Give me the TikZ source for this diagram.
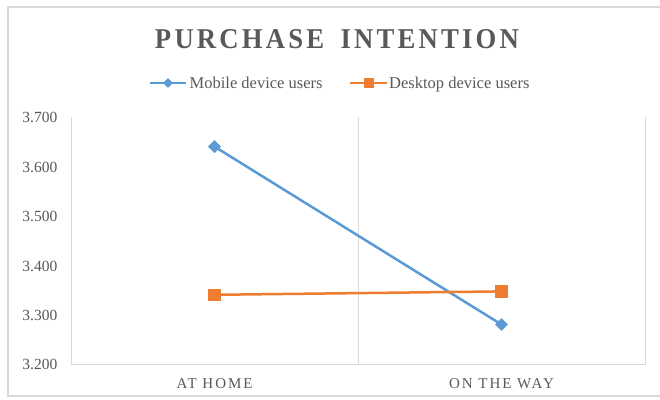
\documentclass[tikz,border=0pt]{standalone}
\usepackage{fontspec}
\setmainfont{Liberation Serif}
\newfontfamily\titlefont[LetterSpace=12]{Liberation Serif}
\newfontfamily\catfont[LetterSpace=13]{Liberation Serif}
\usetikzlibrary{shapes.geometric}

\definecolor{mobileblue}{HTML}{5B9BD5}
\definecolor{desktoporange}{HTML}{ED7D31}
\definecolor{labelgray}{HTML}{595959}
\definecolor{gridgray}{HTML}{D9D9D9}

\tikzset{
  frame/.style={draw=gridgray, line width=1.2bp},
  grid line/.style={draw=gridgray, line width=1bp},
  charttitle/.style={text=labelgray, inner sep=0pt, anchor=base,
    font=\titlefont\bfseries\fontsize{28.7bp}{32bp}\selectfont},
  ylabel/.style={text=labelgray, inner sep=0pt, anchor=base east,
    font=\fontsize{15.5bp}{18bp}\selectfont},
  catlabel/.style={text=labelgray, inner sep=0pt, anchor=base,
    font=\catfont\fontsize{15bp}{18bp}\selectfont},
  legendtext/.style={text=labelgray, inner sep=0pt, anchor=base west,
    font=\fontsize{16.5bp}{19bp}\selectfont},
  mobileline/.style={draw=mobileblue, line width=2.5bp, line join=round},
  desktopline/.style={draw=desktoporange, line width=2.5bp, line join=round},
  mobilemark/.style={diamond, fill=mobileblue, inner sep=0pt,
    minimum width=13bp, minimum height=13bp},
  desktopmark/.style={rectangle, fill=desktoporange, inner sep=0pt,
    minimum size=12.5bp},
}

\begin{document}
\begin{tikzpicture}[x=1bp, y=-1bp]
\useasboundingbox (0,0) rectangle (660,399);
\fill[white] (0,0) rectangle (660,399);

% chart frame (its right edge runs past the page)
\draw[frame] (8,7) rectangle (668,396);

% title
\node[charttitle] (title) at (337,48)
  {\scalebox{0.93}[1]{PURCHASE\hspace{7bp} INTENTION}};

% legend
\coordinate (lm1) at (150,83);
\coordinate (lm2) at (186,83);
\draw[mobileline] (lm1) -- (lm2);
\node[mobilemark, minimum width=10bp, minimum height=10bp] (lmk) at (168,83) {};
\node[legendtext] (lmt) at (189.5,88.5) {Mobile device users};
\coordinate (ld1) at (350,83);
\coordinate (ld2) at (387,83);
\draw[desktopline] (ld1) -- (ld2);
\node[desktopmark, minimum size=10bp] (ldk) at (368.5,83) {};
\node[legendtext] (ldt) at (389,88.5) {Desktop device users};

% plot area lines
\coordinate (axtl) at (71,117);
\coordinate (axbl) at (71,364);
\coordinate (axbr) at (645,364);
\coordinate (axtr) at (645,117);
\coordinate (midt) at (358,117);
\coordinate (midb) at (358,364);
\draw[grid line] (axtl) -- (axbl) -- (axbr) -- (axtr);
\draw[grid line] (midt) -- (midb);

% value axis labels
\foreach \v/\lab [count=\i from 0] in {3.7/3.700,3.6/3.600,3.5/3.500,3.4/3.400,3.3/3.300,3.2/3.200}{
  \node[ylabel] (yl\i) at (57.5,{122.8+49.4*\i}) {\lab};
}

% category labels
\node[catlabel] (cat1) at (214.5,388) {AT HOME};
\node[catlabel] (cat2) at (501.5,388) {ON THE WAY};

% data points
\coordinate (m1) at (214.5,146.6);
\coordinate (m2) at (501.5,324.5);
\coordinate (d1) at (214.5,294.8);
\coordinate (d2) at (501.5,291.4);

\draw[mobileline] (m1) -- (m2);
\draw[desktopline] (d1) -- (d2);

\node[mobilemark] (mk1) at (m1) {};
\node[mobilemark] (mk2) at (m2) {};
\node[desktopmark] (dk1) at (d1) {};
\node[desktopmark] (dk2) at (d2) {};
\end{tikzpicture}
\end{document}
